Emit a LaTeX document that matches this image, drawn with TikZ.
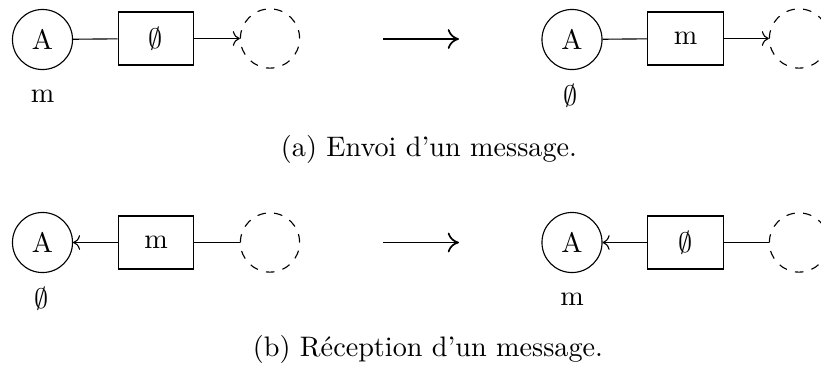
\documentclass[tikz,border=0pt]{standalone}
\usetikzlibrary{arrows.meta}
\begin{document}
\begin{tikzpicture}[x=0.3546pt, y=-0.3546pt,
  agent/.style={draw, circle, inner sep=0pt, minimum size=21.3pt},
  ghost/.style={draw, dashed, circle, inner sep=0pt, minimum size=21pt},
  buffer/.style={draw, rectangle, inner sep=0pt, minimum width=26.9pt, minimum height=18.8pt},
  link/.style={line width=0.4pt},
  bigarrow/.style={line width=0.6pt, -{To[length=4pt,width=7pt]}},
  caption/.style={anchor=base, inner sep=0pt}]
\useasboundingbox (0,0) rectangle (821,372);
\clip (0,0) rectangle (821,372);

% ---- (a) sending a message ----
\node[agent]  (a1) at (42.5,39.5) {A};
\node[buffer] (b1) at (156,38.5) {$\emptyset$};
\node[ghost]  (g1) at (270,38.5) {};
\node (l1) at (42.5,96) {m};
\draw[link] (a1) -- (b1);
\draw[link,->] (b1) -- (g1);

\coordinate (s1) at (383,39);
\coordinate (e1) at (459,39);
\draw[bigarrow] (s1) -- (e1);

\node[agent]  (a2) at (572,39.5) {A};
\node[buffer] (b2) at (685.5,38.5) {m};
\node[ghost]  (g2) at (799,38.5) {};
\node (l2) at (571,96) {$\emptyset$};
\draw[link] (a2) -- (b2);
\draw[link,->] (b2) -- (g2);

\node[caption] (ca) at (429,156) {(a) Envoi d'un message.};

% ---- (b) receiving a message ----
\node[agent]  (a3) at (42.5,242.5) {A};
\node[buffer] (b3) at (156,242.5) {m};
\node[ghost]  (g3) at (270,242.5) {};
\node (l3) at (42,299) {$\emptyset$};
\draw[link,<-] (a3) -- (b3);
\draw[link] (b3) -- (g3);

\coordinate (s2) at (383,242.5);
\coordinate (e2) at (459,242.5);
\draw[bigarrow] (s2) -- (e2);

\node[agent]  (a4) at (572,242.5) {A};
\node[buffer] (b4) at (685.5,242.5) {$\emptyset$};
\node[ghost]  (g4) at (799,242.5) {};
\node (l4) at (572,299) {m};
\draw[link,<-] (a4) -- (b4);
\draw[link] (b4) -- (g4);

\node[caption] (cb) at (428,356) {(b) Réception d'un message.};
\end{tikzpicture}
\end{document}
